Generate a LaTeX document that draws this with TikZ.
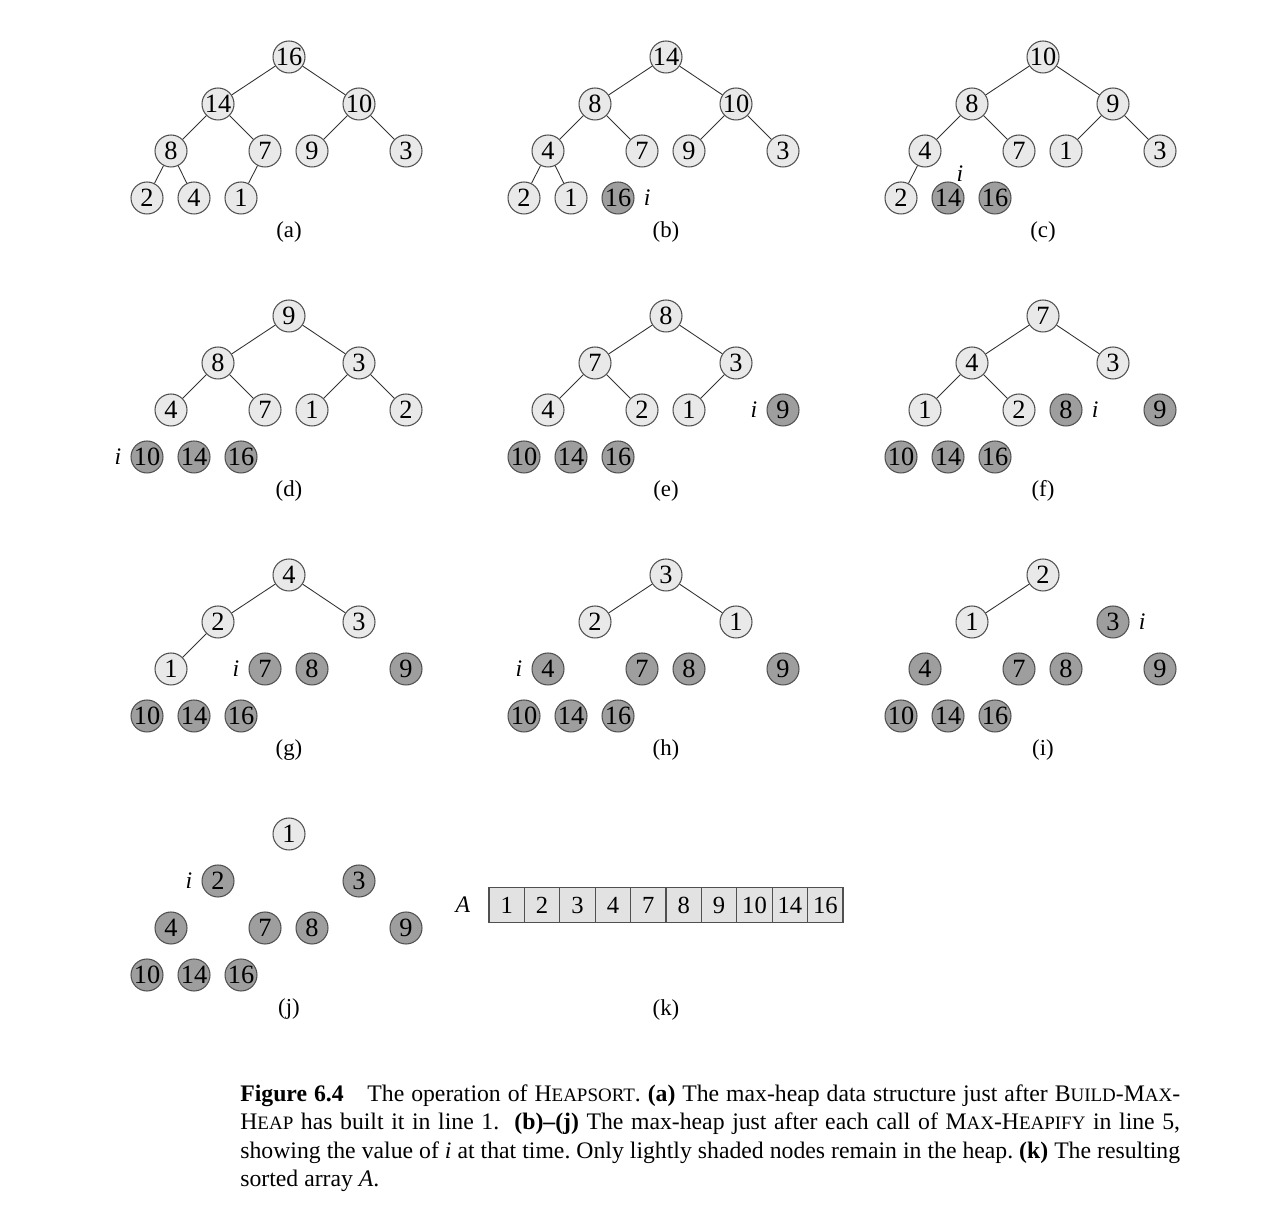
\documentclass[tikz,border=0pt]{standalone}
\usepackage{fontspec}
\setmainfont{Liberation Serif}
\usetikzlibrary{positioning}

\definecolor{heaplight}{RGB}{233,233,233}
\definecolor{heapdark}{RGB}{158,158,158}
\definecolor{rim}{RGB}{80,80,80}
\definecolor{cellfill}{RGB}{226,226,226}

% small caps by hand (the font has none)
\newcommand{\lsc}[1]{{\fontsize{10.8pt}{10.8pt}\selectfont #1}}

% where the slots of a heap sit, relative to its root
\def\slotx{{0,-71,70,-118,-24,23,117,-142,-95,-48}}
\def\sloty{{0,47,47,94,94,94,94,141,141,141}}

\tikzset{
  inheap/.style={circle, draw=rim, fill=heaplight, line width=0.6pt, minimum size=0.64cm, inner sep=0pt, font={\fontsize{15pt}{15pt}\selectfont}},
  sorted/.style={inheap, fill=heapdark},
  edge/.style={black!80, line width=0.5pt},
  ilabel/.style={inner sep=0pt, font={\fontsize{13.5pt}{13.5pt}\selectfont\itshape}},
  tag/.style={font={\fontsize{13pt}{13pt}\selectfont}},
  cell/.style={draw=rim, fill=cellfill, line width=0.6pt, minimum width=0.708cm, minimum height=0.7cm, inner sep=0pt, font={\fontsize{14pt}{14pt}\selectfont}}
}

% #1 = name of the panel, #2 = heap size, #3 = array contents
\newcommand{\heap}[3]{%
  \foreach \val [count=\idx] in {#3} {
    \pgfmathsetmacro\hx{\slotx[\idx-1]}
    \pgfmathsetmacro\hy{\sloty[\idx-1]}
    \ifnum\idx>#2 \def\look{sorted}\else\def\look{inheap}\fi
    \node[\look] (#1\idx) at (\hx,\hy) {\val};
  }
  \ifnum#2>1
    \foreach \ch [evaluate=\ch as \pa using {int(\ch/2)}] in {2,...,#2}
      \draw[edge] (#1\pa) -- (#1\ch);
  \fi
}

\begin{document}
\begin{tikzpicture}[x=0.02cm, y=-0.02cm]
\useasboundingbox (0,0) rectangle (1272,1222);

% (a) after Build-Max-Heap
\begin{scope}[shift={(289,57)}]
  \heap{a}{10}{16,14,10,8,7,9,3,2,4,1}
  \node[tag] (atag) at (0,175) {(a)};
\end{scope}

% (b)
\begin{scope}[shift={(666,57)}]
  \heap{b}{9}{14,8,10,4,7,9,3,2,1,16}
  \node[tag] (btag) at (0,175) {(b)};
\end{scope}
\node[ilabel, right=0.18cm of b10] (bi) {i};

% (c)
\begin{scope}[shift={(1043,57)}]
  \heap{c}{8}{10,8,9,4,7,1,3,2,14,16}
  \node[tag] (ctag) at (0,175) {(c)};
\end{scope}
\node[ilabel, above=0pt of c9, xshift=0.24cm] (ci) {i};

% (d)
\begin{scope}[shift={(289,316)}]
  \heap{d}{7}{9,8,3,4,7,1,2,10,14,16}
  \node[tag] (dtag) at (0,175) {(d)};
\end{scope}
\node[ilabel, left=0.18cm of d8] (di) {i};

% (e)
\begin{scope}[shift={(666,316)}]
  \heap{e}{6}{8,7,3,4,2,1,9,10,14,16}
  \node[tag] (etag) at (0,175) {(e)};
\end{scope}
\node[ilabel, left=0.18cm of e7] (ei) {i};

% (f)
\begin{scope}[shift={(1043,316)}]
  \heap{f}{5}{7,4,3,1,2,8,9,10,14,16}
  \node[tag] (ftag) at (0,175) {(f)};
\end{scope}
\node[ilabel, right=0.18cm of f6] (fi) {i};

% (g)
\begin{scope}[shift={(289,575)}]
  \heap{g}{4}{4,2,3,1,7,8,9,10,14,16}
  \node[tag] (gtag) at (0,175) {(g)};
\end{scope}
\node[ilabel, left=0.18cm of g5] (gi) {i};

% (h)
\begin{scope}[shift={(666,575)}]
  \heap{h}{3}{3,2,1,4,7,8,9,10,14,16}
  \node[tag] (htag) at (0,175) {(h)};
\end{scope}
\node[ilabel, left=0.18cm of h4] (hi) {i};

% (i)
\begin{scope}[shift={(1043,575)}]
  \heap{i}{2}{2,1,3,4,7,8,9,10,14,16}
  \node[tag] (itag) at (0,175) {(i)};
\end{scope}
\node[ilabel, right=0.18cm of i3] (ii) {i};

% (j)
\begin{scope}[shift={(289,834)}]
  \heap{j}{1}{1,2,3,4,7,8,9,10,14,16}
  \node[tag] (jtag) at (0,175) {(j)};
\end{scope}
\node[ilabel, left=0.18cm of j2] (ji) {i};

% (k) the sorted array
\foreach \val [count=\idx] in {1,2,3,4,7,8,9,10,14,16}
  \node[cell] (k\idx) at (471.3+35.4*\idx,905) {\val};
\node[ilabel, left=0.36cm of k1] (karr) {A};
\node[tag] (ktag) at (666,1010) {(k)};

% caption
\node[anchor=north west, inner sep=0pt, text width=18.8cm, align=justify,
      font={\fontsize{13.5pt}{16.3pt}\selectfont\frenchspacing}] (caption) at (240,1084) {%
\textbf{Figure 6.4}\quad The operation of H\lsc{EAPSORT}. \textbf{(a)} The max-heap data structure just after B\lsc{UILD}-M\lsc{AX}-\linebreak
H\lsc{EAP} has built it in line 1.\ \ \textbf{(b)--(j)} The max-heap just after each call of M\lsc{AX}-H\lsc{EAPIFY} in line 5,\linebreak
showing the value of \textit{i} at that time. Only lightly shaded nodes remain in the heap. \textbf{(k)} The resulting\linebreak
sorted array \textit{A}.};
\end{tikzpicture}
\end{document}
